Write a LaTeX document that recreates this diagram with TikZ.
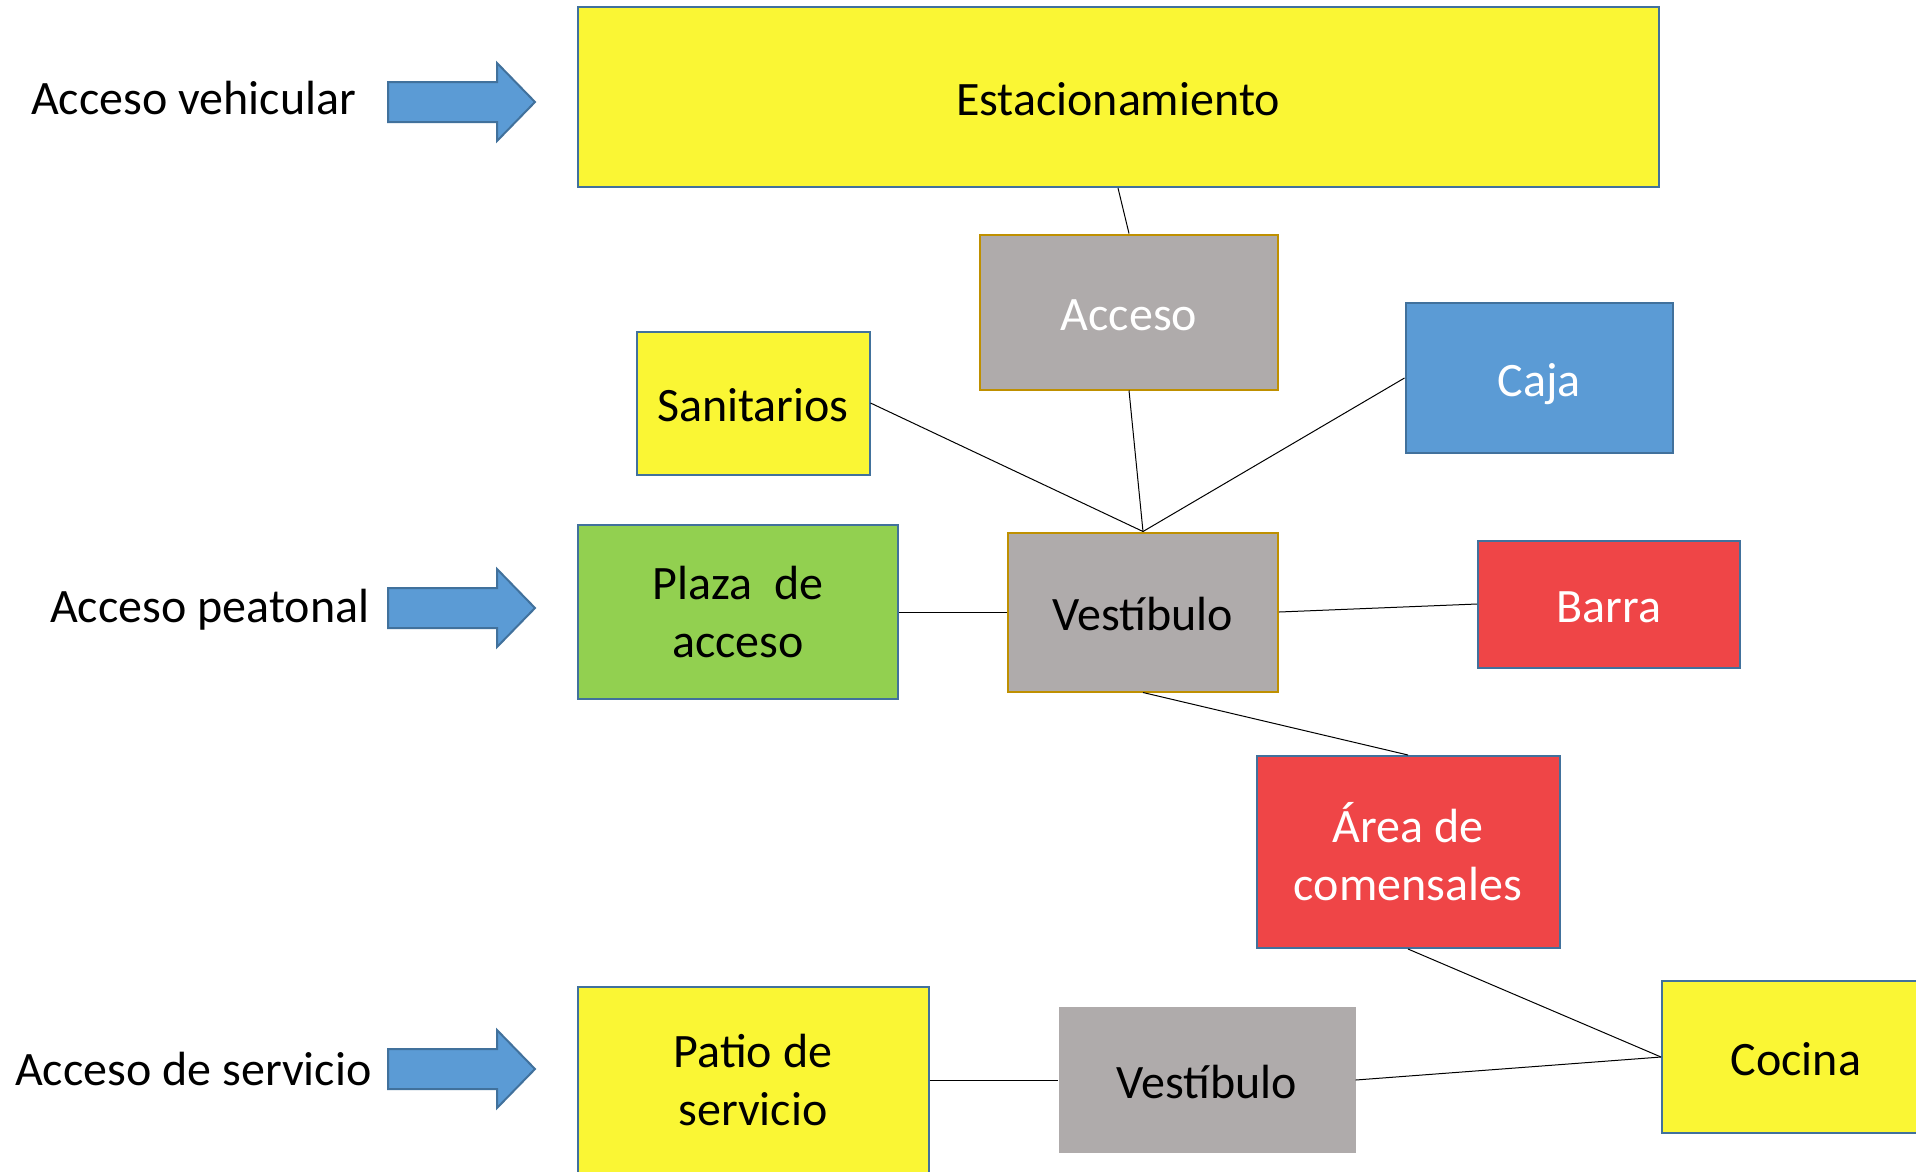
\documentclass[tikz,border=0pt]{standalone}
\usepackage{fontspec}
\setmainfont{Carlito}
\definecolor{cyel}{HTML}{FAF634}
\definecolor{cbord}{HTML}{41719C}
\definecolor{cgray}{HTML}{AFABAB}
\definecolor{cgold}{HTML}{BF9000}
\definecolor{cgreen}{HTML}{92D050}
\definecolor{cblue}{HTML}{5B9BD5}
\definecolor{cred}{HTML}{EF4547}
\begin{document}
\begin{tikzpicture}[x=1pt,y=-1pt,
  every node/.style={font=\fontsize{48}{58}\selectfont, inner sep=0pt, align=center},
  oneline/.style={text height=36pt, text depth=0pt},
  boxb/.style={rectangle, draw=cbord, line width=2pt},
  boxg/.style={rectangle, draw=cgold, line width=2pt, fill=cgray},
  ylw/.style={boxb, fill=cyel, text=black},
  link/.style={draw=black, line width=1pt},
  bigarrow/.style={fill=cblue, draw=cbord, line width=2pt, line join=miter},
  lbl/.style={anchor=west, text=black}]
\useasboundingbox (0,0) rectangle (1916,1171);
\clip (0,0) rectangle (1916,1171);
\fill[white] (0,0) rectangle (1916,1171);

% boxes
\node[ylw, oneline, minimum width=1081pt, minimum height=180pt] (est) at (1118,97) {Estacionamiento};
\node[boxg, oneline, minimum width=298pt, minimum height=155pt, text=white] (acc) at (1129,312) {Acceso};
\node[ylw, oneline, minimum width=233pt, minimum height=143pt] (san) at (753,403) {Sanitarios};
\node[boxb, oneline, fill=cblue, minimum width=267pt, minimum height=150pt, text=white] (caja) at (1539,378) {Caja};
\node[boxb, fill=cgreen, minimum width=320pt, minimum height=174pt] (plaza) at (738,612) {Plaza\ \ de\\acceso};
\node[boxg, oneline, minimum width=270pt, minimum height=159pt] (vest) at (1143,612) {Vestíbulo};
\node[boxb, oneline, fill=cred, minimum width=262pt, minimum height=127pt, text=white] (barra) at (1609,604) {Barra};
\node[boxb, fill=cred, minimum width=303pt, minimum height=192pt, text=white] (area) at (1408,852) {Área de\\comensales};
\node[ylw, minimum width=351pt, minimum height=186pt] (patio) at (753,1080) {Patio de\\servicio};
\node[rectangle, oneline, fill=cgray, minimum width=297pt, minimum height=146pt] (vest2) at (1207,1080) {Vestíbulo};
\node[ylw, oneline, minimum width=268pt, minimum height=152pt] (coc) at (1796,1057) {Cocina};

% connectors
\draw[link] (est.south) -- (acc.north);
\draw[link] (acc.south) -- (vest.north);
\draw[link] (san.east) -- (vest.north);
\draw[link] (caja.west) -- (vest.north);
\draw[link] (plaza.east) -- (vest.west);
\draw[link] (vest.east) -- (barra.west);
\draw[link] (vest.south) -- (area.north);
\draw[link] (area.south) -- (coc.west);
\draw[link] (patio.east) -- (vest2.west);
\draw[link] (vest2.east) -- (coc.west);

% left labels
\node[lbl] (lv) at (31,98.5) {Acceso vehicular};
\node[lbl] (lp) at (50,610) {Acceso peatonal};
\node[lbl] (ls) at (15,1068.5) {Acceso de servicio};

% block arrows
\foreach \yc in {102,608,1069}{
  \draw[bigarrow] (388,\yc-20) -- (497,\yc-20) -- (497,\yc-39) -- (535,\yc) -- (497,\yc+39) -- (497,\yc+20) -- (388,\yc+20) -- cycle;
}
\end{tikzpicture}
\end{document}
